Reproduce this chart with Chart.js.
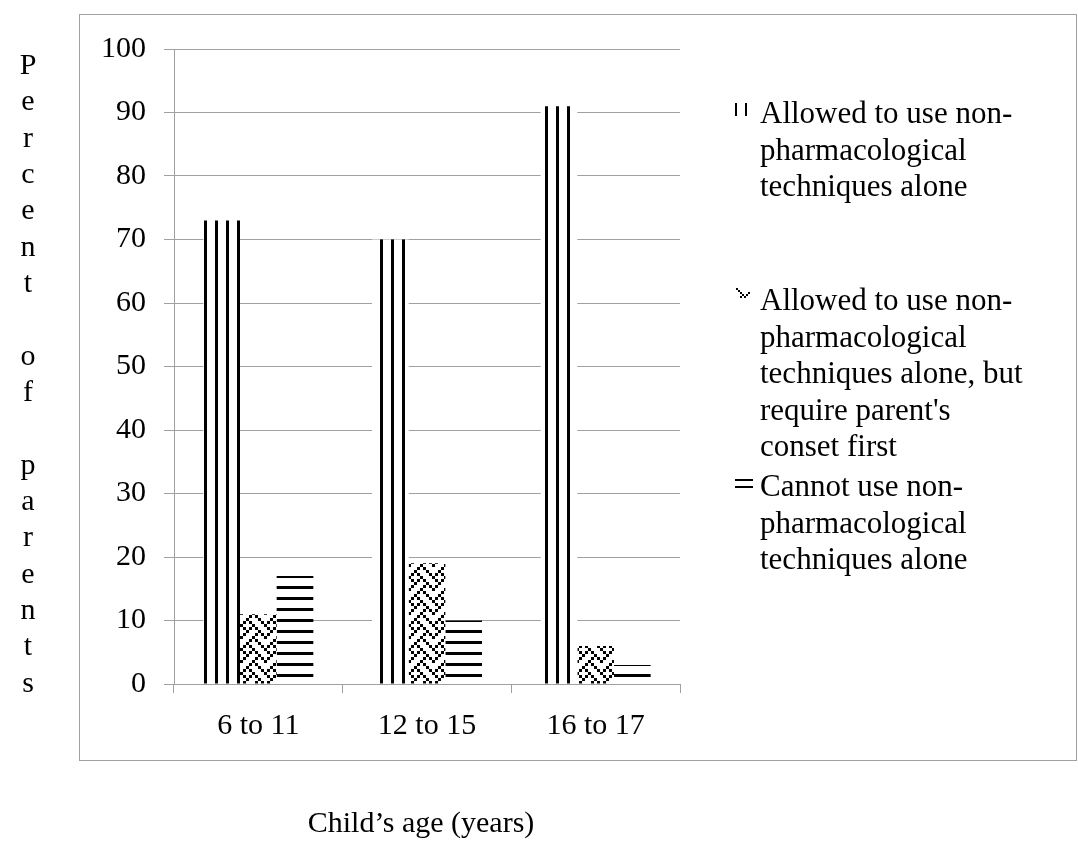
<!DOCTYPE html>
<html>
<head>
<meta charset="utf-8">
<title>Non-pharmacological techniques by child's age</title>
<script src="https://cdn.jsdelivr.net/npm/chart.js@4.4.1/dist/chart.umd.min.js"></script>
<style>
  html, body { margin: 0; padding: 0; background: #fff; }
  #wrap { width: 1078px; height: 846px; }
</style>
</head>
<body>
<div id="wrap"><canvas id="ageChart" width="1078" height="846"></canvas></div>
<script>
// --- data ---
const categories = ['6 to 11', '12 to 15', '16 to 17'];
const allowedAlone = [73, 70, 91];
const allowedWithConsent = [11, 19, 6];
const cannotUse = [17, 10, 3];
const yTicks = [0, 10, 20, 30, 40, 50, 60, 70, 80, 90, 100];

const legendLines = [
  ['Allowed to use non-', 'pharmacological', 'techniques alone'],
  ['Allowed to use non-', 'pharmacological', 'techniques alone, but', "require parent's", 'conset first'],
  ['Cannot use non-', 'pharmacological', 'techniques alone']
];
const yTitle = 'Percent of parents';
const xTitle = 'Child\u2019s age (years)';

const SERIF = '"Liberation Serif", "Times New Roman", serif';
const GREY = '#a0a0a0';
Chart.defaults.font.family = SERIF;
Chart.defaults.color = '#000';

// small bitmap tiles used as bar fills
function makeTile(w, h, draw) {
  const c = document.createElement('canvas');
  c.width = w;
  c.height = h;
  const g = c.getContext('2d');
  g.fillStyle = '#fff';
  g.fillRect(0, 0, w, h);
  g.fillStyle = '#000';
  draw(g);
  return c;
}

// GDI style "weave" hatch, blown up
const WEAVE = [0x88, 0x54, 0x22, 0x45, 0x88, 0x14, 0x22, 0x51];
const verticalTile = makeTile(11, 11, g => g.fillRect(6, 0, 3, 11));
const horizontalTile = makeTile(11, 11, g => g.fillRect(0, 3, 11, 3));
const weaveTile = makeTile(24, 24, g => {
  WEAVE.forEach((row, r) => {
    for (let c = 0; c < 8; c++) {
      if (row & (0x80 >> c)) g.fillRect(c * 3, r * 3, 3, 3);
    }
  });
});

const canvas = document.getElementById('ageChart');
const ctx = canvas.getContext('2d');
const verticalFill = ctx.createPattern(verticalTile, 'repeat');
const horizontalFill = ctx.createPattern(horizontalTile, 'repeat');
const weaveFill = ctx.createPattern(weaveTile, 'repeat');

// legend icons, frame and the two axis titles
const extras = {
  id: 'extras',
  beforeDraw(chart) {
    const g = chart.ctx;
    g.save();
    g.fillStyle = '#fff';
    g.fillRect(0, 0, chart.width, chart.height);
    g.restore();
  },
  afterDraw(chart) {
    const g = chart.ctx;
    g.save();
    g.strokeStyle = GREY;
    g.lineWidth = 1;
    g.strokeRect(79.5, 14.5, 997, 746);

    g.fillStyle = '#000';
    g.font = '30px ' + SERIF;
    g.textAlign = 'center';
    g.textBaseline = 'middle';
    yTitle.split('').forEach((ch, i) => {
      if (ch !== ' ') g.fillText(ch, 28, 66 + i * 36.35);
    });
    g.fillText(xTitle, 421, 824);

    // legend
    const starts = [115, 302, 488];
    const lh = 36.5;
    g.textAlign = 'left';
    g.font = '31px ' + SERIF;
    legendLines.forEach((lines, k) => {
      lines.forEach((t, j) => g.fillText(t, 760, starts[k] + j * lh));
    });
    g.fillRect(735, 103, 2, 13);
    g.fillRect(745, 103, 2, 13);
    // little weave fragment
    [[736, 288], [738, 290], [740, 292], [742, 294], [744, 296], [746, 294], [748, 292], [740, 296]]
      .forEach(([x, y]) => g.fillRect(x, y, 2, 2));
    g.fillRect(735, 479, 18, 2);
    g.fillRect(735, 486, 18, 2);
    g.restore();
  }
};

new Chart(ctx, {
  type: 'bar',
  data: {
    labels: categories,
    datasets: [
      { label: legendLines[0].join(' '), data: allowedAlone, backgroundColor: verticalFill },
      { label: legendLines[1].join(' '), data: allowedWithConsent, backgroundColor: weaveFill },
      { label: legendLines[2].join(' '), data: cannotUse, backgroundColor: horizontalFill }
    ]
  },
  options: {
    responsive: false,
    animation: false,
    events: [],
    layout: { padding: { top: 49, right: 398, left: 0, bottom: 0 } },
    datasets: {
      bar: { categoryPercentage: 0.652, barPercentage: 1, borderWidth: 0 }
    },
    plugins: {
      legend: { display: false },
      tooltip: { enabled: false }
    },
    scales: {
      x: {
        grid: { offset: true, drawOnChartArea: false, drawTicks: true, tickLength: 9, color: GREY },
        border: { color: GREY },
        ticks: { font: { size: 30 }, color: '#000', padding: 15 },
        afterFit: s => { s.height = 162; }
      },
      y: {
        min: 0,
        max: 100,
        grid: { color: GREY, tickLength: 10 },
        border: { color: GREY },
        ticks: { font: { size: 30 }, color: '#000', padding: 18 },
        afterBuildTicks: s => { s.ticks = yTicks.map(v => ({ value: v })); },
        afterFit: s => { s.width = 174; }
      }
    }
  },
  plugins: [extras]
});
</script>
</body>
</html>
